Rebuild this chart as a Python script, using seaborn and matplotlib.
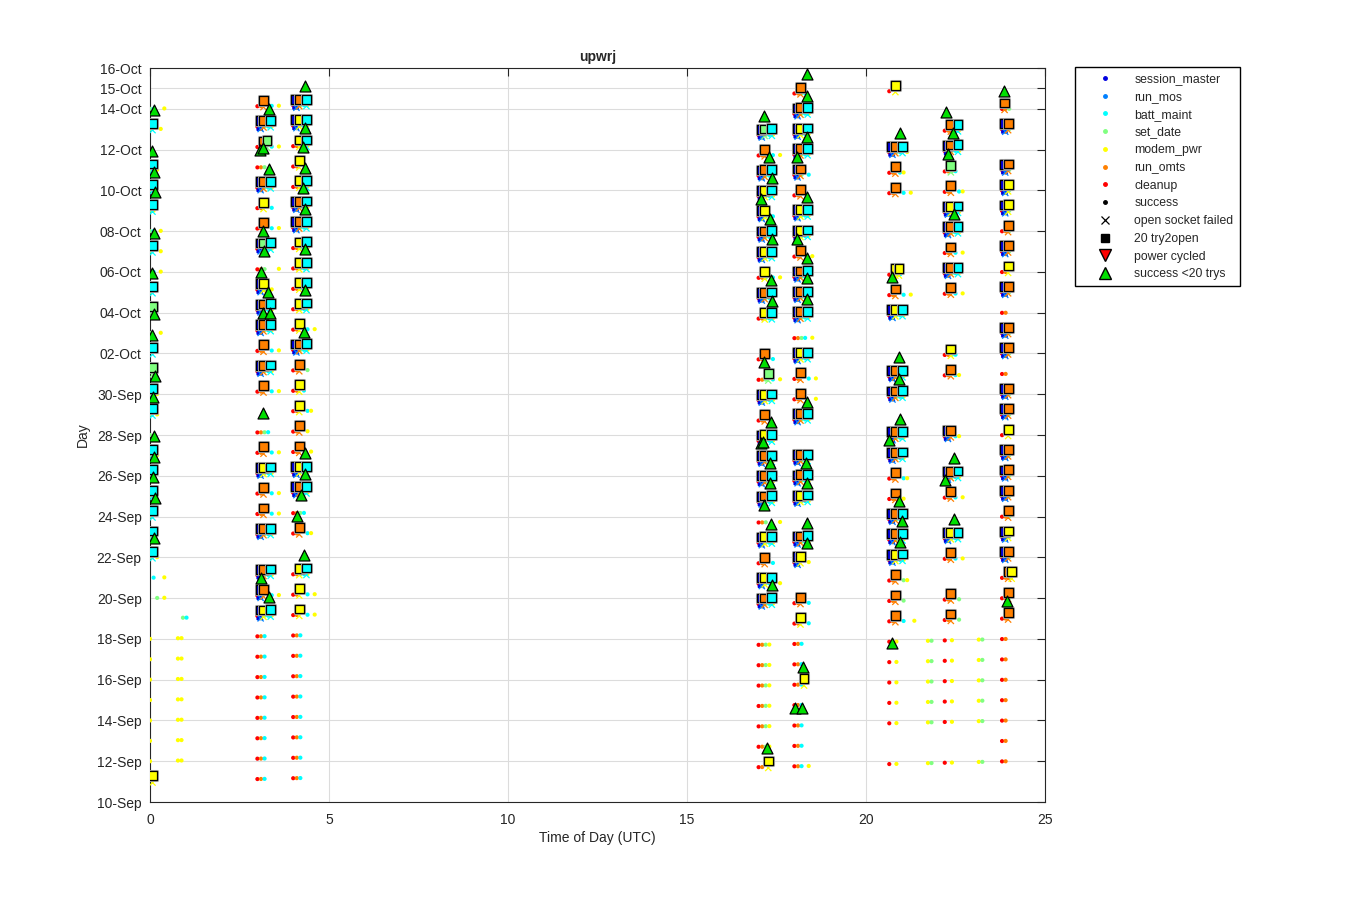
import numpy as np
import pandas as pd
import matplotlib
matplotlib.use("Agg")
import matplotlib.pyplot as plt
import matplotlib.dates as mdates
import matplotlib.patheffects as pe
from matplotlib.lines import Line2D
import seaborn as sns

sns.set_style("white")
plt.rcParams["font.family"] = ["Liberation Sans", "DejaVu Sans"]

# ---------------- data ----------------
START_DATE = "2019-09-10"          # day 0 of the plotted period
PROCS = ["session_master", "run_mos", "batt_maint", "set_date",
         "modem_pwr", "run_omts", "cleanup"]
PROC_COLORS = ["#0000e0", "#0080ff", "#00ffff", "#80ff80",
               "#ffff00", "#ff8000", "#ff0000"]
LETTER = {"b": "session_master", "m": "run_mos", "c": "batt_maint",
          "g": "set_date", "y": "modem_pwr", "o": "run_omts", "r": "cleanup"}
EVENT_STEP_H = 0.1   # hours between successive logged events in a session

# sessions: (day index since START_DATE, 20-try2open processes, logged processes)
A_HOUR = 0.0
A_SESS = [(34, "", "gc  y"), (33, "c", "g  y"), (31, "c", "g y"), (30, "c", "g"),
          (29, "c", "gy"), (28, "", "gc y"), (27, "c", "g  y"), (26, "", " c y"),
          (25, "c", "g"), (24, "g", "g"), (23, "", "g  y"), (22, "c", ""),
          (21, "g", ""), (20, "c", "g y"), (19, "c", "g y"), (18, "", "g"),
          (17, "c", "g y"), (16, "c", "g"), (15, "c", "g"), (14, "c", "g"),
          (13, "c", "g"), (12, "c", "g y"), (11, "", " c  y"), (10, "", "  g y"),
          (8, "", "y"), (7, "", "y"), (6, "", "y"), (5, "", "y"), (4, "", "y"),
          (3, "", "y"), (2, "", "y"), (1, "y", "")]
A2_HOUR = 0.78
A2_SESS = [(8, "", "yy"), (7, "", "yy"), (6, "", "yy"), (5, "", "yy"),
           (4, "", "yy"), (3, "", "yy"), (2, "", "yy")]
A3_HOUR = 0.92
A3_SESS = [(9, "", "gc")]

B_HOUR = 3.0
B_SESS = [(34, " o", "ro  c y"), (33, "bo c", "rogcy"), (32, " og", "rog c y"),
          (31, "", "rog"), (30, "bo c", "rogcy"), (29, " y", "ro  c"),
          (28, " o", "ro  c y"), (27, "bg c", "rogcy"), (26, "", "rog   y"),
          (25, "by", "rogcy"), (24, "bo c", "rogcy"), (23, "bo c", "rogcy"),
          (22, " o", "ro  c y"), (21, "bo c", "rogcy"), (20, " o", "ro  c y"),
          (18, "", "rogc"), (17, " o", "ro  c y"), (16, "by c", "rogcy"),
          (15, " o", "ro  c y"), (14, " o", "ro  c y"), (13, "bo c", "rogcy"),
          (11, "bo c", "rogcy"), (10, "bo", "ro  c y"), (9, "by c", "rogcy"),
          (8, "", "roc"), (7, "", "roc"), (6, "", "roc"), (5, "", "roc"),
          (4, "", "roc"), (3, "", "roc"), (2, "", "roc"), (1, "", "roc")]

C_HOUR = 4.0
C_SESS = [(34, "bo c", "rogcy"), (33, "by c", "rogcy"), (32, " y c", "rog y"),
          (31, " y", "ro"), (30, " y c", "rogcy"), (29, "bo c", "rogcy"),
          (28, "bo c", "rogcy"), (27, " y c", "rogcy"), (26, " y c", "rogcy"),
          (25, " y c", "rogcy"), (24, " y c", "rogcy"), (23, " y", "ro  c y"),
          (22, "bo c", "rogcy"), (21, " o", "ro  g"), (20, " y", "ro c"),
          (19, " y", "ro  cy"), (18, " o", "ro  y"), (17, " o", "ro   y"),
          (16, "by c", "rogcy"), (15, "bo c", "rogcy"), (14, "", "rogc"),
          (13, " o", "ro  cy"), (11, " y c", "rogcy"), (10, " y", "ro  c y"),
          (9, " y", "ro  c y"), (8, "", "roc"), (7, "", "roc"), (6, "", "roc"),
          (5, "", "roc"), (4, "", "roc"), (3, "", "roc"), (2, "", "roc"), (1, "", "roc")]

D_HOUR = 17.0
D_SESS = [(32, "bg c", "rogcy"), (31, " o", "ro  c y"), (30, "bo c", "rogcy"),
          (29, "by c", "rogcy"), (28, "by", "rog c"), (27, "bo c", "rogcy"),
          (26, "by c", "rogcy"), (25, " y", "rog c y"), (24, "bo c", "rogcy"),
          (23, " y c", "rogcy"), (21, " o", "ro  c"), (20, "  g", "rog c y"),
          (19, "by c", "rogcy"), (18, " o", "ro"), (17, "by c", "rogcy"),
          (16, "bo c", "rogcy"), (15, "bo c", "rogcy"), (14, "bo c", "rogcy"),
          (13, "", "rog   y"), (12, "by c", "rogcy"), (11, " o", "ro  c"),
          (10, "by c", "rogc  y"), (9, "bo c", "rogcy"), (7, "", "rogy"),
          (6, "", "rogy"), (5, "", "rogy"), (4, "", "rogy"), (3, "", "rogy"),
          (2, "", "rogy"), (1, "  y", "ro")]

E_HOUR = 18.0
E_SESS = [(34, " o", "rogc"), (33, "bo c", "rogcy"), (32, "by c", "rogcy"),
          (31, "bo c", "rogcy"), (30, "bo", "rog c"), (29, " o", "ro"),
          (28, "by c", "rogcy"), (27, "by c", "rogcy"), (26, " o", "ro   y"),
          (25, "bo c", "rogcy"), (24, "bo c", "rogcy"), (23, "bo c", "rogcy"),
          (22, "", "rogc y"), (21, "by c", "rogcy"), (20, " o", "ro  c y"),
          (19, " o", "ro    y"), (18, "bo c", "rogcy"), (16, "bo c", "rogcy"),
          (15, "bo c", "rogcy"), (14, "by c", "rogcy"), (12, "bo c", "rogcy"),
          (11, "by", "ro  y"), (9, " o", "ro  c"), (8, " y", "ro  c"),
          (7, "", "roc"), (6, "", "roc"), (5, "  y", "roc"), (4, "", "roc"),
          (3, "", "roc"), (2, "", "roc"), (1, "", "roc y")]

F_HOUR = 20.65
F_SESS = [(34, " y", "r"), (31, "bo c", "rogc y"), (30, " o", "ro cy"),
          (29, " o", "ro  c y"), (25, " yy", "rogc"), (24, " o", "ro  c y"),
          (23, "by c", "rogcy"), (20, "bo c", "rogcy"), (19, "bo c", "rogcy"),
          (17, "bo c", "rogcy"), (16, "bo c", "rogcy"), (15, " o", "ro  cy"),
          (14, " o", "ro  y"), (13, "bo c", "rogcy"), (12, "bo c", "rogcy"),
          (11, "by c", "rogcy"), (10, " o", "ro  gy"), (9, " o", "ro  g"),
          (8, " o", "ro  c  y"), (7, "", "r y"), (6, "", "r y"), (5, "", "r y"),
          (4, "", "r y"), (3, "", "r y"), (1, "", "r y")]
F2_HOUR = 21.73
F2_SESS = [(7, "", "yg"), (6, "", "yg"), (5, "", "yg"), (4, "", "yg"),
           (3, "", "yg"), (1, "", "yg")]

G_HOUR = 22.2
G_SESS = [(32, " o c", "rogcy"), (31, "bo c", "rogcy"), (30, " g", "rogc"),
          (29, " o", "ro  cy"), (28, "by c", "rogcy"), (27, "bo c", "rogcy"),
          (26, " o", "ro c y"), (25, "bo c", "rogcy"), (24, " o", "ro c y"),
          (21, " y", "rogc"), (20, " o", "ro cy"), (17, "bo", "ro cy"),
          (15, "bo c", "rogcy"), (14, " o", "ro c y"), (12, "by c", "rogcy"),
          (11, " o", "ro c y"), (9, " o", "ro  g"), (8, " o", "ro  g"),
          (7, "", "r y"), (6, "", "r y"), (5, "", "r y"), (4, "", "r y"),
          (3, "", "r y"), (1, "", "r y")]
G2_HOUR = 23.15
G2_SESS = [(7, "", "yg"), (6, "", "yg"), (5, "", "yg"), (4, "", "yg"),
           (3, "", "yg"), (1, "", "yg")]

H_HOUR = 23.8
H_SESS = [(33, "o", "rog"), (32, "bo", "rog"), (30, "bo", "rog"), (29, "by", "rog"),
          (28, "by", "rog"), (27, " o", "rog"), (26, "bo", "rog"), (25, " y", "ro"),
          (24, "bo", "rog"), (23, "", "ro"), (22, "bo", "rog"), (21, "bo", "rog"),
          (20, "", "ro"), (19, "bo", "rog"), (18, "bo", "rog"), (17, " y", "r"),
          (16, "bo", "rog"), (15, "bo", "rog"), (14, "bo", "rog"), (13, " o", "rog"),
          (12, "by", "rog"), (11, "bo", "rog"), (10, " oy", "rog"), (9, " o", "rog"),
          (8, " o", "ro"), (7, "", "ro"), (6, "", "ro"), (5, "", "ro"),
          (4, "", "ro"), (3, "", "ro"), (2, "", "ro"), (1, "", "ro")]

# success <20 trys : (hour of day, days since START_DATE)
TRI_A = [(0.11, 33.94), (0.06, 31.93), (0.11, 30.90), (0.14, 29.92), (0.11, 27.91),
         (0.06, 25.94), (0.11, 23.93), (0.06, 22.90), (0.14, 20.89), (0.08, 19.86),
         (0.11, 17.95), (0.11, 16.92), (0.08, 15.94), (0.14, 14.91), (0.11, 12.95)]
TRI_B = [(3.32, 33.99), (3.07, 31.98), (3.16, 32.07), (3.32, 31.04), (3.16, 28.00),
         (3.18, 27.02), (3.10, 25.99), (3.30, 25.01), (3.16, 23.98), (3.35, 23.98),
         (3.16, 19.08), (3.10, 10.99), (3.32, 10.05)]
TRI_C = [(4.33, 35.12), (4.33, 33.06), (4.27, 32.12), (4.33, 31.09), (4.27, 30.11),
         (4.33, 29.08), (4.33, 27.12), (4.33, 25.11), (4.30, 23.05), (4.33, 17.12),
         (4.33, 16.09), (4.22, 15.06), (4.11, 14.03), (4.30, 12.11)]
TRI_D = [(17.15, 33.64), (17.29, 31.63), (17.37, 30.60), (17.07, 29.57), (17.32, 28.59),
         (17.37, 27.61), (17.35, 25.60), (17.37, 24.57), (17.15, 21.58), (17.35, 18.64),
         (17.07, 17.61), (17.12, 17.66), (17.32, 16.63), (17.32, 15.64), (17.15, 14.57),
         (17.35, 13.63), (17.37, 10.64), (17.23, 2.65)]
TRI_E = [(18.35, 35.70), (18.35, 34.63), (18.35, 32.61), (18.07, 31.63), (18.35, 29.67),
         (18.07, 27.61), (18.35, 26.68), (18.35, 25.70), (18.35, 24.67), (18.35, 19.62),
         (18.32, 16.63), (18.35, 15.64), (18.35, 13.68), (18.35, 12.70), (18.23, 6.62),
         (18.02, 4.61), (18.21, 4.61)]
TRI_F = [(20.95, 32.81), (20.73, 25.75), (20.92, 21.82), (20.92, 20.75), (20.95, 18.78),
         (20.64, 17.75), (20.92, 14.76), (21.01, 13.78), (20.95, 12.75), (20.73, 7.80)]
TRI_G = [(22.23, 33.84), (22.43, 32.81), (22.29, 31.78), (22.46, 28.84), (22.46, 16.87),
         (22.21, 15.79), (22.46, 13.88)]
TRI_H = [(23.85, 34.87), (23.94, 9.86)]

# ---------------- build tables ----------------
BASE = mdates.date2num(np.datetime64(START_DATE))
SQ_LIFT = 0.29      # display lift of the 20-try2open marker above its log row
X_DROP = 0.05
BLUE_DROP = 0.12

dot_rows, x_rows, sq_rows = [], [], []
clusters = [(A_HOUR, A_SESS), (A2_HOUR, A2_SESS), (A3_HOUR, A3_SESS),
            (B_HOUR, B_SESS), (C_HOUR, C_SESS), (D_HOUR, D_SESS), (E_HOUR, E_SESS),
            (F_HOUR, F_SESS), (F2_HOUR, F2_SESS), (G_HOUR, G_SESS),
            (G2_HOUR, G2_SESS), (H_HOUR, H_SESS)]
for hour, sess in clusters:
    for n, sq, logs in sess:
        for k, ch in enumerate(logs):
            if ch == " ":
                continue
            t = hour + k * EVENT_STEP_H
            dot_rows.append((t, BASE + n + t / 24, LETTER[ch]))
        for k, ch in enumerate(sq):
            if ch == " ":
                continue
            t = hour + 0.07 + k * EVENT_STEP_H
            y = BASE + n + t / 24
            sq_rows.append((t, y + SQ_LIFT, LETTER[ch]))
            x_rows.append((t, y - X_DROP, LETTER[ch]))
            if ch == "b":
                dot_rows.append((t - 0.04, y - BLUE_DROP, "session_master"))
                dot_rows.append((t + 0.03, y - BLUE_DROP, "run_mos"))
                x_rows.append((t + 0.02, y - BLUE_DROP, "run_mos"))

dots_df = pd.DataFrame(dot_rows, columns=["hour", "day", "proc"])
x_df = pd.DataFrame(x_rows, columns=["hour", "day", "proc"])
sq_df = pd.DataFrame(sq_rows, columns=["hour", "day", "proc"])
tri = TRI_A + TRI_B + TRI_C + TRI_D + TRI_E + TRI_F + TRI_G + TRI_H
tri_df = pd.DataFrame({"hour": [h for h, d in tri], "day": [BASE + d for h, d in tri]})

pal = dict(zip(PROCS, PROC_COLORS))

# ---------------- plot ----------------
fig = plt.figure(figsize=(13.5, 9), dpi=100)
ax = fig.add_axes([150 / 1350, 98 / 900, 895 / 1350, 734 / 900])

sns.scatterplot(data=dots_df, x="hour", y="day", hue="proc", palette=pal,
                hue_order=PROCS, marker="o", s=9, linewidth=0, legend=False,
                ax=ax, zorder=3)
sns.scatterplot(data=x_df, x="hour", y="day", hue="proc", palette=pal,
                hue_order=PROCS, marker="x", s=20, linewidth=0.9, legend=False,
                ax=ax, zorder=4)
sns.scatterplot(data=sq_df, x="hour", y="day", hue="proc", palette=pal,
                hue_order=PROCS, marker="s", s=40, edgecolor="black",
                linewidth=0.9, legend=False, ax=ax, zorder=5,
                path_effects=[pe.withStroke(linewidth=2.2, foreground="#a8a8a8")])
sns.scatterplot(data=tri_df, x="hour", y="day", color="#00e000", marker="^",
                s=62, edgecolor="black", linewidth=0.9, legend=False, ax=ax,
                zorder=6)

ax.set_xlim(0, 25)
ax.set_ylim(BASE, BASE + 36)
ax.set_xticks(range(0, 26, 5))
ax.set_yticks([BASE + k for k in list(range(0, 35, 2)) + [35, 36]])
ax.yaxis.set_major_formatter(mdates.DateFormatter("%d-%b"))
ax.grid(True, color="#dcdcdc", linewidth=0.8)
ax.set_axisbelow(True)
ax.tick_params(direction="in", length=6, width=0.8, top=True, right=True,
               labelsize=10, colors="#262626")
ax.tick_params(axis="x", pad=8)
ax.tick_params(axis="y", pad=6)
for sp in ax.spines.values():
    sp.set_color("#262626")
    sp.set_linewidth(0.8)
ax.set_xlabel("Time of Day (UTC)", fontsize=10, color="#262626", labelpad=3)
ax.set_ylabel("Day", fontsize=10, color="#262626", labelpad=5)
ax.set_title("upwrj", fontsize=10, fontweight="bold", pad=5)

handles = [Line2D([], [], ls="none", marker=".", color=c, ms=5) for c in PROC_COLORS]
handles += [Line2D([], [], ls="none", marker=".", color="black", ms=5),
            Line2D([], [], ls="none", marker="x", color="black", ms=6, mew=0.9),
            Line2D([], [], ls="none", marker="s", color="black", ms=6),
            Line2D([], [], ls="none", marker="v", mfc="red", mec="black", ms=8),
            Line2D([], [], ls="none", marker="^", mfc="#00e000", mec="black", ms=8)]
labels = PROCS + ["success", "open socket failed", "20 try2open",
                  "power cycled", "success <20 trys"]
fig.legend(handles, labels, loc="upper left", bbox_to_anchor=(1075 / 1350, 1 - 67 / 900),
           frameon=True, fancybox=False, edgecolor="black", framealpha=1,
           fontsize=8.8, borderaxespad=0, labelspacing=0.47, handlelength=3.9,
           handletextpad=0.45, borderpad=0.5)

fig.savefig("out.png", dpi=100)
